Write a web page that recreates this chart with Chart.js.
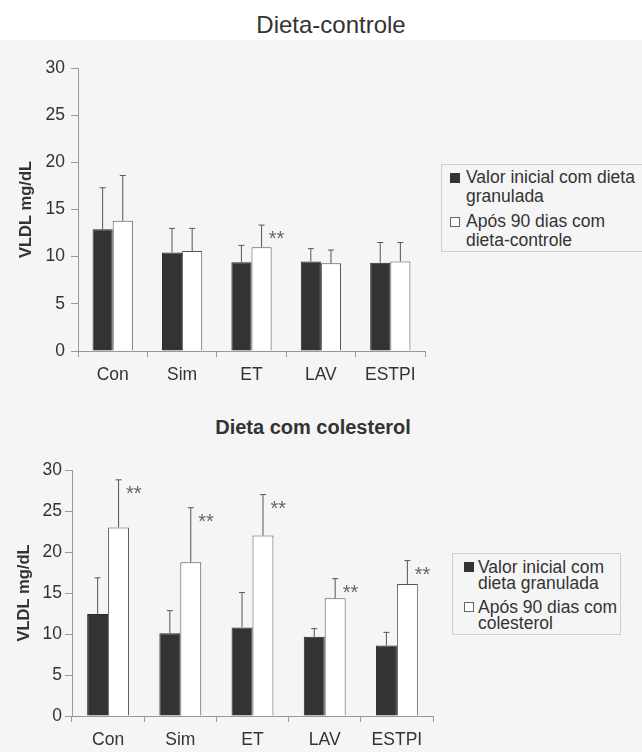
<!DOCTYPE html>
<html>
<head>
<meta charset="utf-8">
<script src="https://cdn.jsdelivr.net/npm/chart.js@4/dist/chart.umd.min.js"></script>
<style>
  html, body { margin: 0; padding: 0; background: #f5f5f5; }
  body { width: 642px; height: 752px; position: relative; overflow: hidden;
         font-family: "Liberation Sans", Arial, sans-serif; color: #333; }
  .faixa { position: absolute; left: 0; top: 0; width: 642px; height: 40px; background: #fff; }
  .titulo { position: absolute; white-space: nowrap; transform: translate(-50%, -50%); line-height: 1; }
  canvas { position: absolute; }
  .legenda { position: absolute; border: 1px solid #cfcfcf; font-size: 17.5px; white-space: nowrap; }
  .item { position: relative; }
  .marca { position: absolute; width: 10px; height: 10px; box-sizing: border-box; }
</style>
</head>
<body>

<div class="faixa"></div>
<div class="titulo" style="left:331px; top:25px; font-size:24px;">Dieta-controle</div>
<canvas id="grafico-controle" width="432" height="355" style="left:0; top:40px;"></canvas>
<div class="legenda" id="legenda-controle" style="left:441px; top:164px; width:205px; padding:3px 0 1px 0; line-height:19px;"></div>

<div class="titulo" style="left:313px; top:427px; font-size:20px; font-weight:bold;">Dieta com colesterol</div>
<canvas id="grafico-colesterol" width="440" height="312" style="left:0; top:440px;"></canvas>
<div class="legenda" id="legenda-colesterol" style="left:452px; top:553px; width:167px; padding:5px 0 3px 0; line-height:16px;"></div>

<script>
// Categorias do eixo x
const categorias = ['Con', 'Sim', 'ET', 'LAV', 'ESTPI'];
const ticksY     = [0, 5, 10, 15, 20, 25, 30];

// Dieta-controle (médias e desvio, só para cima)
const controleInicial    = [12.9, 10.45, 9.4, 9.5, 9.35];
const controleInicialDP  = [4.4, 2.55, 1.8, 1.35, 2.15];
const controle90         = [13.8, 10.6, 11.0, 9.3, 9.5];
const controle90DP       = [4.8, 2.4, 2.35, 1.4, 2.0];
const controleMarcas     = ['', '', '**', '', ''];

// Dieta com colesterol
const colesterolInicial   = [12.45, 10.1, 10.8, 9.65, 8.6];
const colesterolInicialDP = [4.4, 2.75, 4.25, 1.0, 1.6];
const colesterol90        = [23.0, 18.75, 22.0, 14.35, 16.1];
const colesterol90DP      = [5.8, 6.65, 5.0, 2.4, 2.85];
const colesterolMarcas    = ['**', '**', '**', '**', '**'];

// Rótulos da legenda (uma linha por entrada do array)
const rotulosControle   = [['Valor inicial com dieta', 'granulada'], ['Após 90 dias com', 'dieta-controle']];
const rotulosColesterol = [['Valor inicial com', 'dieta granulada'], ['Após 90 dias com', 'colesterol']];

const FONTE = '"Liberation Sans", Arial, sans-serif';

/**
 * Desenha as barras de erro (só para cima) e as marcas "**".
 */
const pluginErros = {
    id: 'erros',
    afterDatasetsDraw(chart) {
        const ctx = chart.ctx;
        const y   = chart.scales.y;
        chart.data.datasets.forEach((ds, i) => {
            const meta = chart.getDatasetMeta(i);
            meta.data.forEach((barra, j) => {
                const topo = y.getPixelForValue(ds.data[j] + ds.desvio[j]);
                ctx.save();
                ctx.strokeStyle = '#555';
                ctx.lineWidth = 1;
                ctx.beginPath();
                ctx.moveTo(barra.x, barra.y);
                ctx.lineTo(barra.x, topo);
                ctx.moveTo(barra.x - 3, topo);
                ctx.lineTo(barra.x + 3, topo);
                ctx.stroke();
                if (ds.marcas && ds.marcas[j]) {
                    ctx.fillStyle = '#666';
                    ctx.font = '20px ' + FONTE;
                    ctx.textAlign = 'left';
                    ctx.textBaseline = 'alphabetic';
                    ctx.fillText(ds.marcas[j], barra.x + barra.width / 2 - 3, topo + 20);
                }
                ctx.restore();
            });
        });
    }
};

function criarGrafico(id, inicial, inicialDP, final, finalDP, marcas, cfg) {
    const ctx = document.getElementById(id).getContext('2d');
    return new Chart(ctx, {
        type: 'bar',
        data: {
            labels: categorias,
            datasets: [
                {
                    data: inicial, desvio: inicialDP,
                    backgroundColor: '#333333', borderColor: '#2a2a2a', borderWidth: 1,
                    barPercentage: 1, categoryPercentage: 0.58,
                },
                {
                    data: final, desvio: finalDP, marcas: marcas,
                    backgroundColor: '#ffffff', borderColor: '#555555', borderWidth: 1,
                    barPercentage: 1, categoryPercentage: 0.58,
                }
            ]
        },
        options: {
            animation: false,
            responsive: false,
            layout: { padding: { top: cfg.topo, right: cfg.direita, left: 0, bottom: 0 } },
            plugins: { legend: { display: false }, tooltip: { enabled: false } },
            scales: {
                x: {
                    grid:   { drawOnChartArea: false, tickLength: 6, color: '#999', offset: true },
                    border: { color: '#999' },
                    ticks:  { font: { size: 17.5, family: FONTE }, color: '#333', padding: 8 },
                    afterFit: s => { s.height = cfg.alturaX; }
                },
                y: {
                    min: 0, max: 30,
                    afterBuildTicks: s => { s.ticks = ticksY.map(v => ({ value: v })); },
                    grid:   { drawOnChartArea: false, tickLength: 7, color: '#999' },
                    border: { color: '#999' },
                    ticks:  { font: { size: 17.5, family: FONTE }, color: '#333', padding: cfg.padY },
                    title:  {
                        display: true, text: 'VLDL mg/dL', color: '#333',
                        font: { size: 16.5, weight: 'bold', family: FONTE },
                        padding: { top: cfg.padTitulo, bottom: 0 }
                    },
                    afterFit: s => { s.width = cfg.larguraY; }
                }
            }
        },
        plugins: [pluginErros]
    });
}

function criarLegenda(id, rotulos, recuo, alturaLinha, espaco) {
    const caixa = document.getElementById(id);
    const cores = [['#333', '#333'], ['#fff', '#666']];
    rotulos.forEach((linhas, i) => {
        const item = document.createElement('div');
        item.className = 'item';
        item.style.paddingLeft = recuo.texto + 'px';
        if (i > 0) item.style.marginTop = espaco + 'px';
        item.innerHTML = '<span class="marca" style="left:' + recuo.marca + 'px;top:' +
            ((alturaLinha - 10) / 2) + 'px;background:' + cores[i][0] +
            ';border:1px solid ' + cores[i][1] + '"></span>' + linhas.join('<br>');
        caixa.appendChild(item);
    });
}

criarGrafico('grafico-controle', controleInicial, controleInicialDP, controle90, controle90DP, controleMarcas,
    { topo: 28, direita: 7, alturaX: 44, larguraY: 78, padY: 6, padTitulo: 17 });
criarGrafico('grafico-colesterol', colesterolInicial, colesterolInicialDP, colesterol90, colesterol90DP, colesterolMarcas,
    { topo: 30, direita: 7, alturaX: 36, larguraY: 72, padY: 3, padTitulo: 15 });

criarLegenda('legenda-controle', rotulosControle, { marca: 8, texto: 24 }, 19, 6);
criarLegenda('legenda-colesterol', rotulosColesterol, { marca: 11, texto: 25 }, 16, 8);
</script>
</body>
</html>
